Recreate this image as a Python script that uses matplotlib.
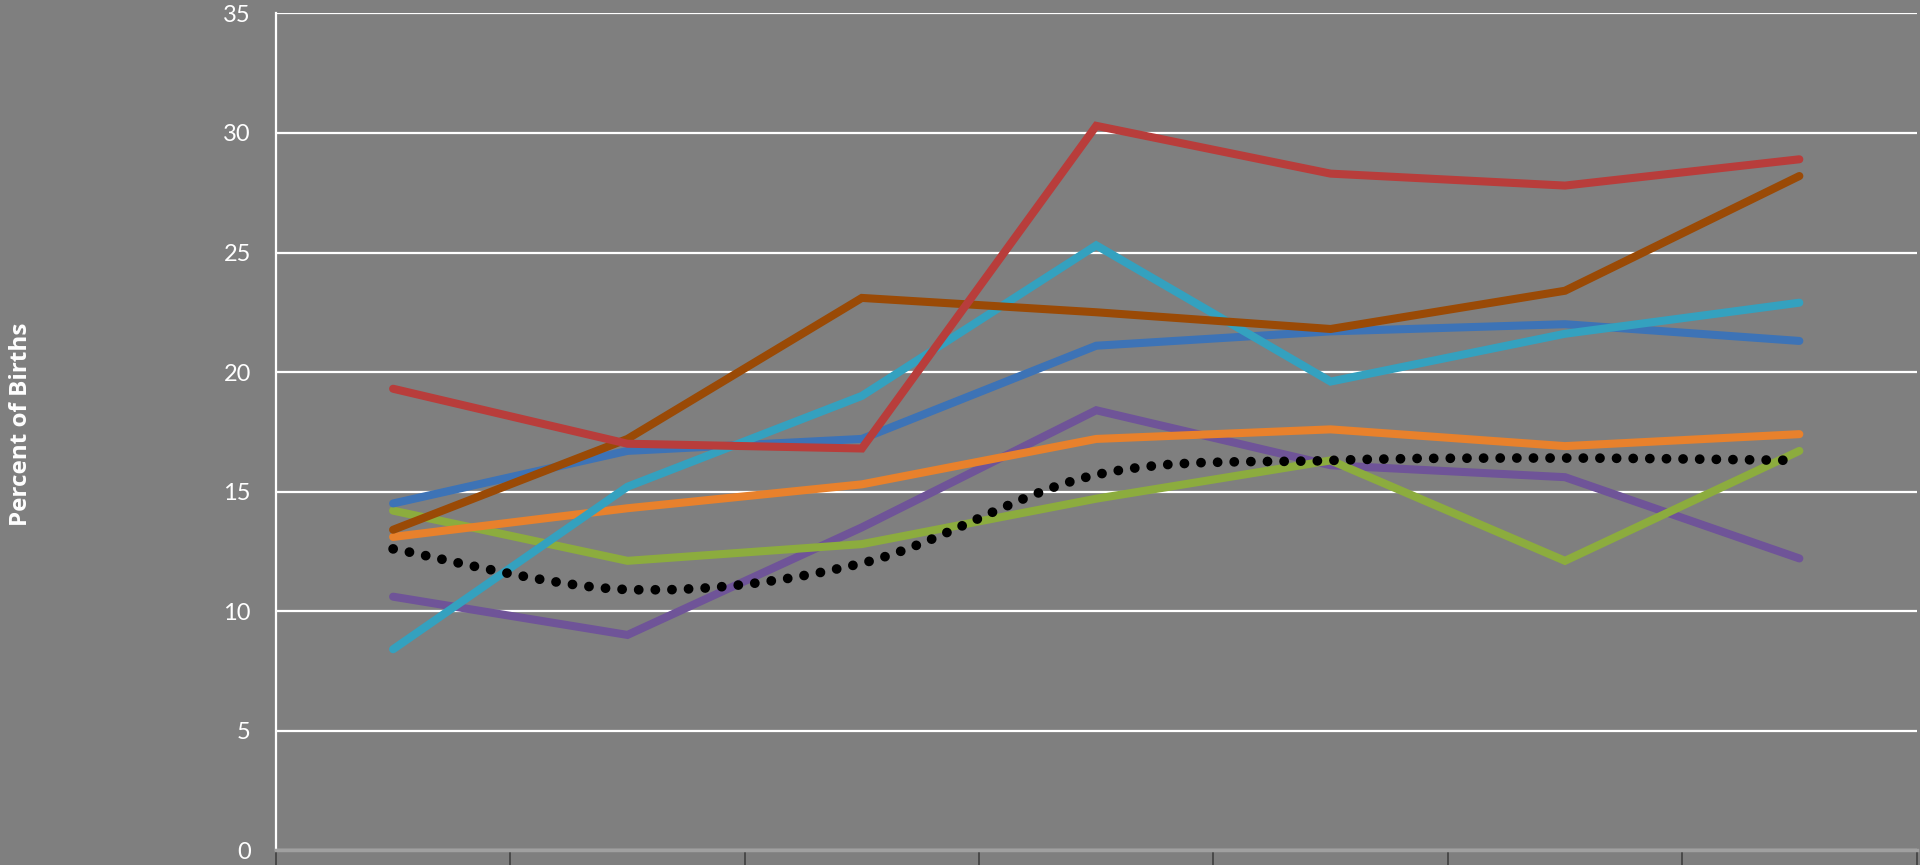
import matplotlib
matplotlib.use("Agg")
import matplotlib.pyplot as plt
import numpy as np
from matplotlib.path import Path
from matplotlib.patches import PathPatch

# seven periods along the x axis (labels fall below the visible area)
periods = ["1", "2", "3", "4", "5", "6", "7"]

red_series = [19.3, 17.0, 16.8, 30.3, 28.3, 27.8, 28.9]
brown_series = [13.4, 17.2, 23.1, 22.5, 21.8, 23.4, 28.2]
blue_series = [14.5, 16.7, 17.2, 21.1, 21.7, 22.0, 21.3]
cyan_series = [8.4, 15.2, 19.0, 25.3, 19.6, 21.6, 22.9]
orange_series = [13.1, 14.3, 15.3, 17.2, 17.6, 16.9, 17.4]
green_series = [14.2, 12.1, 12.8, 14.7, 16.3, 12.1, 16.7]
purple_series = [10.6, 9.0, 13.5, 18.4, 16.1, 15.6, 12.2]
average_series = [12.6, 10.9, 12.0, 15.7, 16.3, 16.4, 16.3]

bg = "#7f7f7f"

fig = plt.figure(figsize=(19.2, 8.65), dpi=100, facecolor=bg)
ax = fig.add_axes([0.1437, 0.0173, 0.8545, 0.9671])
ax.set_facecolor(bg)

x = np.arange(len(periods))

lines = [
    (purple_series, "#6f5498"),
    (green_series, "#8cac3e"),
    (orange_series, "#e8812c"),
    (blue_series, "#3d73b6"),
    (cyan_series, "#34a1bf"),
    (brown_series, "#9a4a06"),
    (red_series, "#b83d3b"),
]
for vals, col in lines:
    ax.plot(x, vals, color=col, lw=5.8, solid_capstyle="round",
            solid_joinstyle="miter", zorder=3)

# smoothed dotted average line (bezier through the points)
pts = np.column_stack([x, average_series]).astype(float)
verts = [pts[0]]
codes = [Path.MOVETO]
t = 1 / 6
for i in range(len(pts) - 1):
    p0 = pts[i - 1] if i > 0 else pts[i]
    p1 = pts[i]
    p2 = pts[i + 1]
    p3 = pts[i + 2] if i + 2 < len(pts) else pts[i + 1]
    verts += [p1 + (p2 - p0) * t, p2 - (p3 - p1) * t, p2]
    codes += [Path.CURVE4] * 3
patch = PathPatch(Path(verts, codes), fill=False, edgecolor="black",
                  lw=7, linestyle=(0, (0.01, 1.7)), capstyle="round", zorder=4)
ax.add_patch(patch)

ax.set_xlim(-0.5, len(periods) - 0.5)
ax.set_ylim(0, 35)
ax.set_yticks(np.arange(0, 36, 5))
ax.yaxis.grid(True, color="white", lw=1.6, zorder=1)
ax.set_axisbelow(True)

ax.set_xticks(x)
ax.set_xticklabels([])
ax.set_xticks(np.arange(-0.5, len(periods), 1), minor=True)
ax.tick_params(axis="x", which="major", length=0)
ax.tick_params(axis="x", which="minor", length=12, width=1.2, color="#404040")
ax.tick_params(axis="y", length=0, pad=18, labelsize=17, labelcolor="white")
for lab in ax.get_yticklabels():
    lab.set_fontfamily("Lato")

for s in ["top", "right"]:
    ax.spines[s].set_visible(False)
ax.spines["left"].set_color("white")
ax.spines["left"].set_linewidth(1.6)
ax.spines["bottom"].set_color("#a0a0a0")
ax.spines["bottom"].set_linewidth(2.5)

fig.text(0.011, 0.51, "Percent of Births", rotation=90, color="white",
         fontsize=17.5, fontweight="bold", fontfamily="Open Sans",
         ha="center", va="center")

fig.savefig("out.png", dpi=100, facecolor=bg)
